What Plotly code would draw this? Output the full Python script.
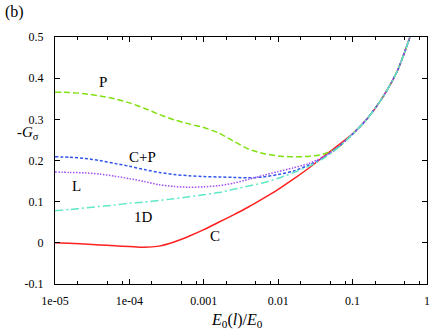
import plotly.graph_objects as go

# shared x grid (E0(l)/E0)
x_grid = [1e-5, 1.58e-5, 2.51e-5, 3.98e-5, 6.31e-5, 1e-4, 1.58e-4, 2.51e-4, 3.98e-4, 6.31e-4,
          1e-3, 1.58e-3, 2.51e-3, 3.98e-3, 6.31e-3, 0.01, 0.0158, 0.0251, 0.0398, 0.0631,
          0.1, 0.158, 0.251, 0.398, 0.631]

y_C = [0.000, -0.001, -0.003, -0.005, -0.007, -0.009, -0.011, -0.008, 0.002, 0.016,
       0.032, 0.050, 0.068, 0.087, 0.108, 0.130, 0.154, 0.180, 0.208, 0.236,
       0.265, 0.302, 0.352, 0.417, 0.515]
y_P = [0.366, 0.365, 0.362, 0.357, 0.350, 0.340, 0.327, 0.312, 0.299, 0.289,
       0.280, 0.267, 0.247, 0.228, 0.217, 0.211, 0.209, 0.210, 0.215, 0.231,
       0.264, 0.302, 0.352, 0.417, 0.515]
y_CP = [0.209, 0.208, 0.205, 0.200, 0.193, 0.186, 0.178, 0.171, 0.166, 0.163,
        0.161, 0.160, 0.159, 0.158, 0.160, 0.166, 0.174, 0.188, 0.206, 0.232,
        0.264, 0.302, 0.352, 0.417, 0.515]
y_L = [0.172, 0.171, 0.170, 0.167, 0.162, 0.156, 0.149, 0.141, 0.137, 0.135,
       0.136, 0.139, 0.145, 0.154, 0.164, 0.173, 0.182, 0.192, 0.208, 0.232,
       0.264, 0.302, 0.352, 0.417, 0.515]
y_1D = [0.078, 0.081, 0.085, 0.088, 0.092, 0.096, 0.099, 0.103, 0.107, 0.112,
        0.117, 0.122, 0.130, 0.138, 0.146, 0.157, 0.170, 0.185, 0.204, 0.230,
        0.264, 0.302, 0.352, 0.417, 0.515]

x_tickvals = [1e-5, 1e-4, 1e-3, 1e-2, 1e-1, 1]
x_ticktext = ["1e-05", "1e-04", "0.001", "0.01", "0.1", "1"]
x_minor = [m * 10**e for e in range(-5, 0) for m in (2, 5, 8)]
y_tickvals = [-0.1, 0, 0.1, 0.2, 0.3, 0.4, 0.5]
y_ticktext = ["-0.1", "0", "0.1", "0.2", "0.3", "0.4", "0.5"]

labels = [("P", -4.36, 0.391), ("C+P", -3.83, 0.209), ("L", -4.71, 0.138),
          ("1D", -3.81, 0.063), ("C", -2.85, 0.017)]

fig = go.Figure()
series = [
    (y_C, "C", "#ff2020", "solid"),
    (y_P, "P", "#80e010", "6px,3px"),
    (y_CP, "C+P", "#3355ee", "3px,2px"),
    (y_L, "L", "#a050f0", "1.5px,1.5px"),
    (y_1D, "1D", "#60e8c8", "8px,3px,2px,3px"),
]
for ys, name, col, dash in series:
    fig.add_trace(go.Scatter(x=x_grid, y=ys, mode="lines", name=name,
                             line=dict(color=col, width=1.5, dash=dash, shape="spline", smoothing=0.7)))

font = "Liberation Serif, Times New Roman, serif"
for t, lx, ly in labels:
    fig.add_annotation(x=lx, y=ly, xref="x", yref="y", text=t, showarrow=False,
                       font=dict(family=font, size=15, color="black"))

fig.add_annotation(x=-0.11, y=1.10, xref="paper", yref="paper", xanchor="center", yanchor="middle",
                   text="(b)", showarrow=False, font=dict(family=font, size=16, color="black"))
fig.add_annotation(x=-0.072, y=0.611, xref="paper", yref="paper", xanchor="center", yanchor="middle",
                   text="-<i>G</i><sub>σ</sub>", showarrow=False,
                   font=dict(family=font, size=15, color="black"))
fig.add_annotation(x=0.49, y=-0.146, xref="paper", yref="paper", xanchor="center", yanchor="middle",
                   text="<i>E</i><sub>0</sub>(<i>l</i>)/<i>E</i><sub>0</sub>", showarrow=False,
                   font=dict(family=font, size=16, color="black"))

fig.update_layout(
    width=436, height=335,
    margin=dict(l=55, r=6, t=37, b=51),
    paper_bgcolor="white", plot_bgcolor="white",
    showlegend=False,
    font=dict(family=font, size=12, color="black"),
    xaxis=dict(type="log", range=[-5, 0], tickmode="array", tickvals=x_tickvals, ticktext=x_ticktext,
               ticks="inside", ticklen=5, tickwidth=1, tickcolor="black", showgrid=False, zeroline=False,
               showline=True, linecolor="black", linewidth=1, mirror="allticks",
               minor=dict(tickmode="array", tickvals=x_minor, ticks="inside", ticklen=3, tickcolor="black", showgrid=False),
               ticklabelstandoff=6,
               tickfont=dict(family=font, size=12, color="black")),
    yaxis=dict(range=[-0.1, 0.5], tickmode="array", tickvals=y_tickvals, ticktext=y_ticktext,
               ticks="inside", ticklen=5, tickwidth=1, tickcolor="black", showgrid=False, zeroline=False,
               showline=True, linecolor="black", linewidth=1, mirror="allticks",
               ticklabelstandoff=8,
               tickfont=dict(family=font, size=12, color="black")),
)

fig.write_html("out.html", config={"displayModeBar": False},
               post_script="document.body.style.margin='0';document.body.style.overflow='hidden';")
